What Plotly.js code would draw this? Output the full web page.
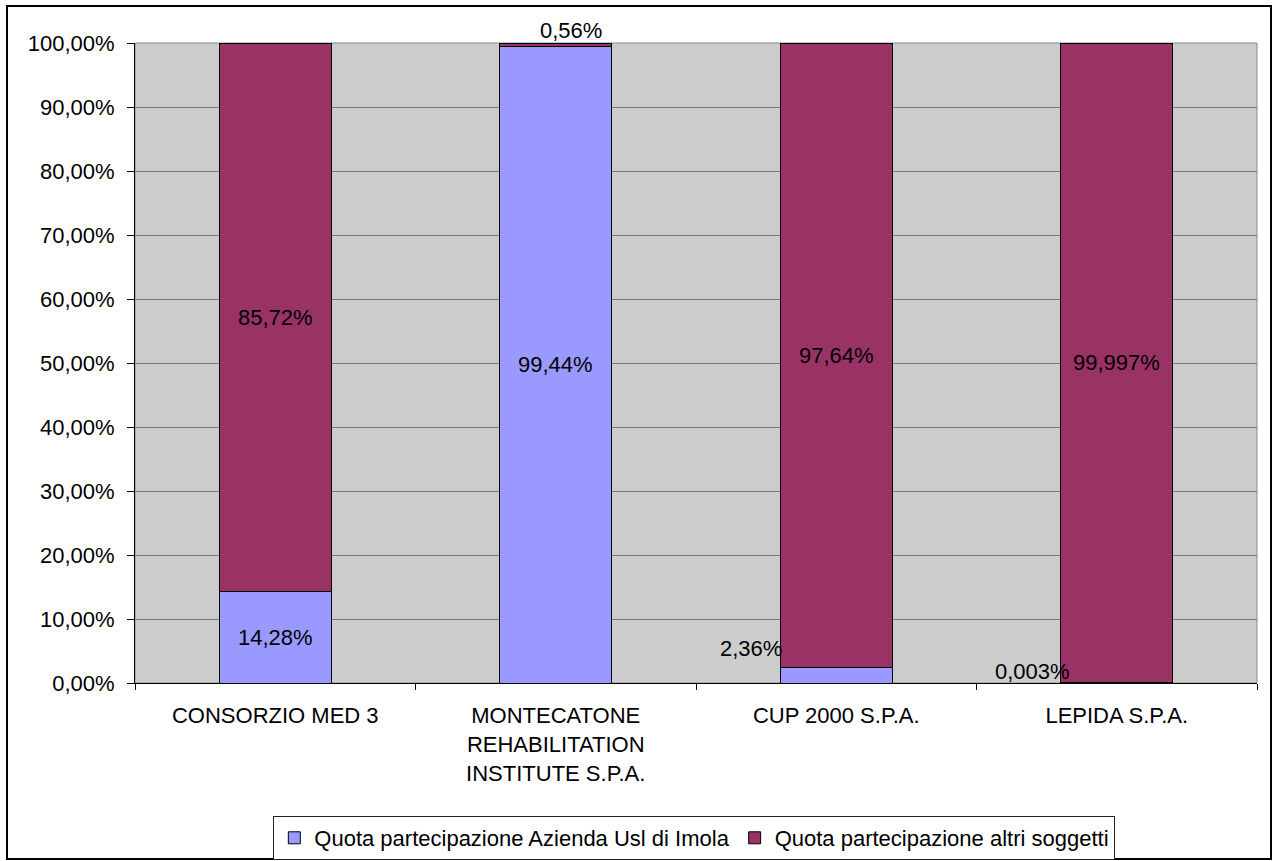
<!DOCTYPE html>
<html>
<head>
<meta charset="utf-8">
<script src="https://cdn.plot.ly/plotly-3.0.1.min.js"></script>
<style>
html,body{margin:0;padding:0;background:#fff;}
#chart{width:1273px;height:861px;}
</style>
</head>
<body>
<div id="chart"></div>
<script>
// ---- data ----
var categories = ["CONSORZIO MED 3", "MONTECATONE<br>REHABILITATION<br>INSTITUTE S.P.A.", "CUP 2000 S.P.A.", "LEPIDA S.P.A."];
var seriesNames = ["Quota partecipazione Azienda Usl di Imola", "Quota partecipazione altri soggetti"];
var quotaUsl = [14.28, 99.44, 2.36, 0.003];
var quotaAltri = [85.72, 0.56, 97.64, 99.997];
var labelsUsl = ["14,28%", "99,44%", "2,36%", "0,003%"];
var labelsAltri = ["85,72%", "0,56%", "97,64%", "99,997%"];
var yTickVals = [0, 10, 20, 30, 40, 50, 60, 70, 80, 90, 100];
var yTickText = ["0,00%", "10,00%", "20,00%", "30,00%", "40,00%", "50,00%", "60,00%", "70,00%", "80,00%", "90,00%", "100,00%"];

var FONT = "Liberation Sans, Arial, Helvetica, sans-serif";

var traces = [
  {type: "bar", name: seriesNames[0], x: categories, y: quotaUsl,
   marker: {color: "#9999FF", line: {color: "#000", width: 1}}, hoverinfo: "skip"},
  {type: "bar", name: seriesNames[1], x: categories, y: quotaAltri,
   marker: {color: "#993366", line: {color: "#000", width: 1}}, hoverinfo: "skip"}
];

// label annotations (positions from data; small segments shifted in pixels)
var shiftsUsl = [[0, 0], [0, 0], [-85, 27], [-84, 12]];
var shiftsAltri = [[0, 0], [15, 13], [0, 0], [0, 0]];
var annotations = [];
for (var i = 0; i < categories.length; i++) {
  var small1 = quotaUsl[i] < 1;
  annotations.push({x: categories[i], y: small1 ? 0 : quotaUsl[i] / 2, xref: "x", yref: "y",
    text: labelsUsl[i], showarrow: false, xshift: shiftsUsl[i][0], yshift: shiftsUsl[i][1],
    font: {family: FONT, size: 22, color: "#000"}});
  var small2 = quotaAltri[i] < 5;
  annotations.push({x: categories[i], y: small2 ? 100 : quotaUsl[i] + quotaAltri[i] / 2, xref: "x", yref: "y",
    text: labelsAltri[i], showarrow: false, xshift: shiftsAltri[i][0], yshift: shiftsAltri[i][1],
    font: {family: FONT, size: 22, color: "#000"}});
}

var L = 135, R = 16, T = 43, B = 178;
var W = 1273 - L - R, H = 861 - T - B;

var layout = {
  width: 1273, height: 861,
  margin: {l: L, r: R, t: T, b: B, pad: 0, autoexpand: false},
  paper_bgcolor: "#fff", plot_bgcolor: "#CCCCCC",
  barmode: "stack", bargap: 0.6,
  font: {family: FONT, size: 22, color: "#000"},
  showlegend: true,
  legend: {orientation: "h", x: 0.4985, xanchor: "center", y: (683 - 816) / H, yanchor: "top",
    bordercolor: "#222", borderwidth: 1, bgcolor: "#fff", itemwidth: 30,
    font: {family: FONT, size: 22, color: "#000"}, traceorder: "normal"},
  xaxis: {type: "category", tickson: "boundaries", ticks: "outside", ticklen: 6, tickcolor: "#000",
    showline: true, linecolor: "#000", linewidth: 1, showgrid: false, zeroline: false,
    tickfont: {family: FONT, size: 22, color: "#000"}, ticklabelstandoff: 13, fixedrange: true},
  yaxis: {range: [0, 100], tickvals: yTickVals, ticktext: yTickText, ticks: "outside", ticklen: 7,
    tickcolor: "#000", showline: true, linecolor: "#000", linewidth: 1,
    showgrid: true, gridcolor: "#777777", gridwidth: 1, zeroline: false,
    tickfont: {family: FONT, size: 22, color: "#000"}, ticklabelstandoff: 8, fixedrange: true},
  annotations: annotations,
  shapes: [
    {type: "rect", xref: "paper", yref: "paper", x0: 0, x1: 1, y0: 0, y1: 1,
     line: {color: "#8c8c8c", width: 1}, layer: "below"},
    {type: "rect", xref: "paper", yref: "paper",
     x0: (7 - L) / W, x1: (1271 - L) / W, y0: (683 - 859) / H, y1: (683 - 6) / H,
     line: {color: "#000", width: 2}, layer: "above"}
  ]
};

Plotly.newPlot("chart", traces, layout, {displayModeBar: false, staticPlot: true});
</script>
</body>
</html>
